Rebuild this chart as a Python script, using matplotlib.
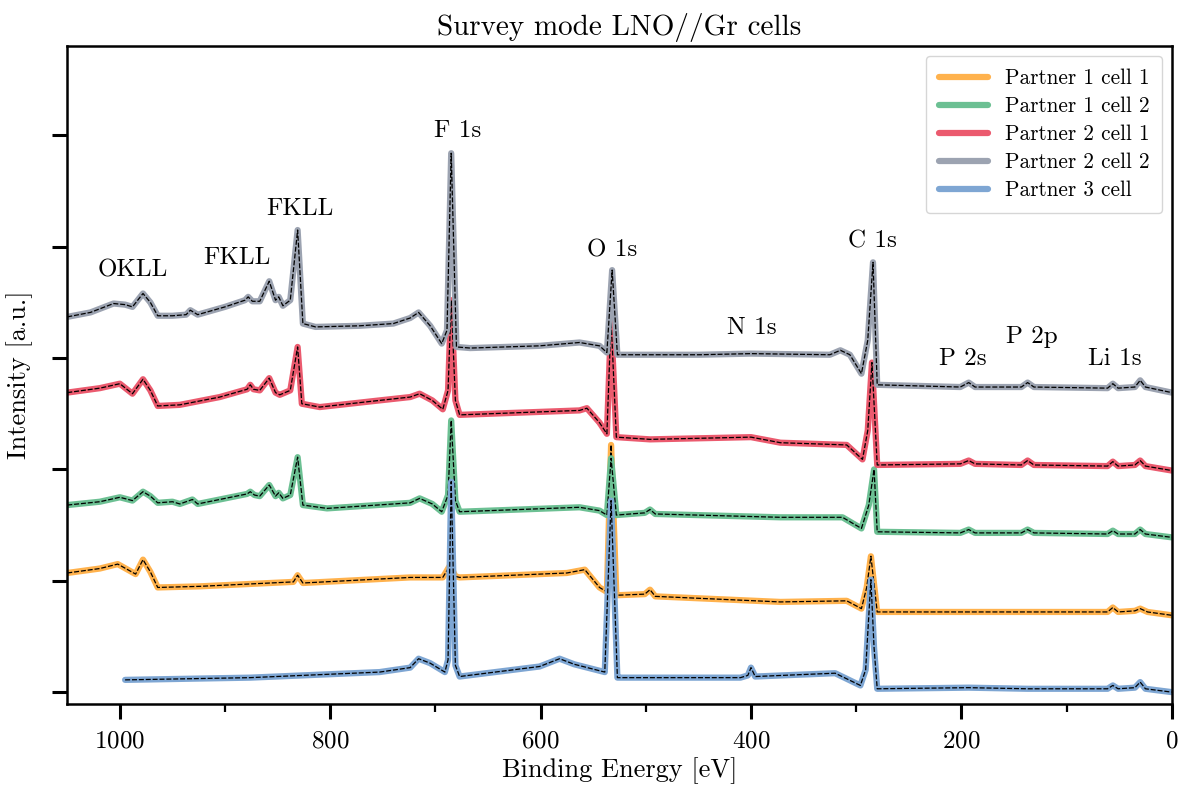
import numpy as np
import matplotlib
matplotlib.use("Agg")
import matplotlib.pyplot as plt
from matplotlib.ticker import MultipleLocator

plt.rcParams['font.family'] = 'serif'
plt.rcParams['font.serif'] = ['cmr10', 'DejaVu Serif']
plt.rcParams['mathtext.fontset'] = 'cm'
plt.rcParams['axes.formatter.use_mathtext'] = True

# spectra: binding energy [eV] and stacked intensity [a.u.]
p1c1_E = [1050, 1019, 1002, 985, 978, 971, 964, 924, 835, 831, 826, 724, 693, 686, 681, 677,
          575, 558, 544, 537, 533, 528, 501, 496, 491, 372, 309, 295, 290, 286, 280,
          61, 56, 51, 35, 30, 23, 0]
p1c1_I = [1.07, 1.11, 1.15, 1.06, 1.19, 1.08, 0.94, 0.95, 0.99, 1.05, 0.98, 1.03, 1.03, 1.14, 1.04, 1.03,
          1.07, 1.10, 0.94, 0.90, 2.22, 0.87, 0.88, 0.92, 0.86, 0.81, 0.82, 0.75, 0.94, 1.22, 0.72,
          0.72, 0.76, 0.72, 0.73, 0.75, 0.72, 0.69]

p1c2_E = [1050, 1019, 1000, 988, 978, 971, 964, 950, 943, 931, 926, 879, 876, 872, 867, 858, 852,
          849, 845, 838, 831, 826, 803, 724, 715, 703, 694, 688, 685, 681, 677, 563, 544, 537,
          533, 528, 501, 496, 491, 372, 313, 295, 288, 283, 280, 201, 193, 187, 143, 137, 131,
          61, 56, 51, 35, 30, 25, 0]
p1c2_I = [1.68, 1.71, 1.75, 1.72, 1.80, 1.76, 1.70, 1.71, 1.69, 1.73, 1.69, 1.78, 1.80, 1.77, 1.76, 1.86, 1.76,
          1.79, 1.74, 1.77, 2.11, 1.68, 1.65, 1.70, 1.74, 1.69, 1.62, 1.77, 2.44, 1.72, 1.62, 1.66, 1.63, 1.59,
          2.10, 1.59, 1.61, 1.64, 1.60, 1.57, 1.57, 1.47, 1.68, 2.00, 1.44, 1.43, 1.46, 1.43, 1.43, 1.46, 1.43,
          1.42, 1.45, 1.42, 1.42, 1.46, 1.42, 1.39]

p2c1_E = [1050, 1019, 1000, 988, 978, 971, 964, 943, 905, 879, 876, 873, 867, 858, 852, 848, 838,
          831, 827, 810, 753, 724, 715, 703, 693, 688, 685, 681, 677, 620, 563, 556, 544, 537,
          533, 528, 496, 400, 372, 309, 294, 289, 285, 280, 201, 193, 187, 143, 137, 131,
          61, 56, 51, 35, 30, 25, 0]
p2c1_I = [2.69, 2.73, 2.77, 2.68, 2.81, 2.71, 2.57, 2.58, 2.65, 2.72, 2.76, 2.72, 2.71, 2.82, 2.69, 2.67, 2.71,
          3.10, 2.59, 2.56, 2.62, 2.65, 2.68, 2.62, 2.54, 2.71, 3.52, 2.62, 2.49, 2.51, 2.53, 2.55, 2.42, 2.32,
          3.34, 2.29, 2.27, 2.29, 2.24, 2.22, 2.09, 2.35, 2.96, 2.04, 2.05, 2.08, 2.05, 2.04, 2.08, 2.04,
          2.03, 2.07, 2.03, 2.04, 2.08, 2.03, 1.99]

p2c2_E = [1050, 1028, 1006, 995, 988, 978, 971, 964, 950, 937, 933, 926, 900, 881, 878, 874, 867,
          858, 852, 849, 845, 838, 831, 826, 814, 772, 740, 724, 716, 705, 694, 689, 685, 680,
          667, 601, 563, 544, 537, 532, 527, 449, 400, 325, 315, 306, 295, 289, 284, 280,
          201, 193, 187, 143, 137, 131, 61, 56, 51, 35, 30, 25, 0]
p2c2_I = [3.37, 3.41, 3.49, 3.48, 3.46, 3.58, 3.50, 3.38, 3.38, 3.39, 3.43, 3.39, 3.46, 3.52, 3.55, 3.51, 3.51,
          3.69, 3.52, 3.55, 3.47, 3.52, 4.15, 3.31, 3.28, 3.29, 3.31, 3.36, 3.41, 3.29, 3.13, 3.25, 4.84, 3.10,
          3.09, 3.11, 3.14, 3.11, 3.05, 3.79, 3.03, 3.03, 3.04, 3.03, 3.07, 3.03, 2.86, 3.16, 3.86, 2.76,
          2.74, 2.78, 2.74, 2.74, 2.78, 2.74, 2.73, 2.77, 2.73, 2.74, 2.80, 2.74, 2.69]

p3_E = [995, 876, 753, 724, 716, 705, 691, 688, 685, 681, 677, 601, 582, 568, 539, 533, 527,
        525, 410, 403, 400, 396, 320, 296, 291, 286, 283, 280, 193, 137, 61, 56, 51, 35, 30, 25, 0]
p3_I = [0.11, 0.13, 0.18, 0.22, 0.30, 0.26, 0.18, 0.29, 1.89, 0.24, 0.14, 0.23, 0.30, 0.25, 0.18, 1.72, 0.13,
        0.13, 0.13, 0.15, 0.22, 0.14, 0.17, 0.06, 0.20, 1.01, 0.40, 0.03, 0.04, 0.03, 0.03, 0.06, 0.03, 0.04,
        0.09, 0.03, 0.00]

labels = ['Partner 1 cell 1', 'Partner 1 cell 2', 'Partner 2 cell 1', 'Partner 2 cell 2', 'Partner 3 cell']
energies = [p1c1_E, p1c2_E, p2c1_E, p2c2_E, p3_E]
intens = [p1c1_I, p1c2_I, p2c1_I, p2c2_I, p3_I]
colors = ['#ffb24d', '#6cc093', '#eb5a6e', '#9ca3b1', '#7ea6d3']

peak_names = ['OKLL', 'FKLL', 'FKLL', 'F 1s', 'O 1s', 'N 1s', 'C 1s', 'P 2s', 'P 2p', 'Li 1s']
peak_E = [988, 889, 829, 679, 532, 399, 285, 199, 133, 54]
peak_y = [3.79, 3.90, 4.34, 5.04, 3.97, 3.27, 4.05, 2.99, 3.19, 2.99]

fig = plt.figure(figsize=(11.8, 7.85), dpi=100)
ax = fig.add_axes([0.057, 0.103, 0.936, 0.838])

for E, I, c, lab in zip(energies, intens, colors, labels):
    ax.plot(E, I, color=c, lw=4.5, solid_capstyle='round', label=lab)
    ax.plot(E, I, color='k', lw=0.9, ls=(0, (4, 1.5)))

for name, e, y in zip(peak_names, peak_E, peak_y):
    ax.text(e, y, name, ha='center', va='center', fontsize=18)

ax.set_xlim(1050, 0)
ax.set_ylim(-0.108, 5.80)
ax.xaxis.set_major_locator(MultipleLocator(200))
ax.xaxis.set_minor_locator(MultipleLocator(100))
ax.set_yticks(range(6))
ax.set_yticklabels([])
ax.tick_params(which='major', direction='out', length=11, width=2.2, labelsize=18, pad=8)
ax.tick_params(which='minor', direction='out', length=6, width=1.6)
for s in ax.spines.values():
    s.set_linewidth(1.8)

ax.set_xlabel('Binding Energy [eV]', fontsize=19, labelpad=3)
ax.set_ylabel('Intensity [a.u.]', fontsize=19, labelpad=6)
ax.set_title('Survey mode LNO//Gr cells', fontsize=21, pad=8)

ax.legend(loc='upper right', fontsize=15.3, labelspacing=0.4, handlelength=2.3,
          borderaxespad=0.45, borderpad=0.6, fancybox=True)

fig.savefig('out.png', dpi=100)
